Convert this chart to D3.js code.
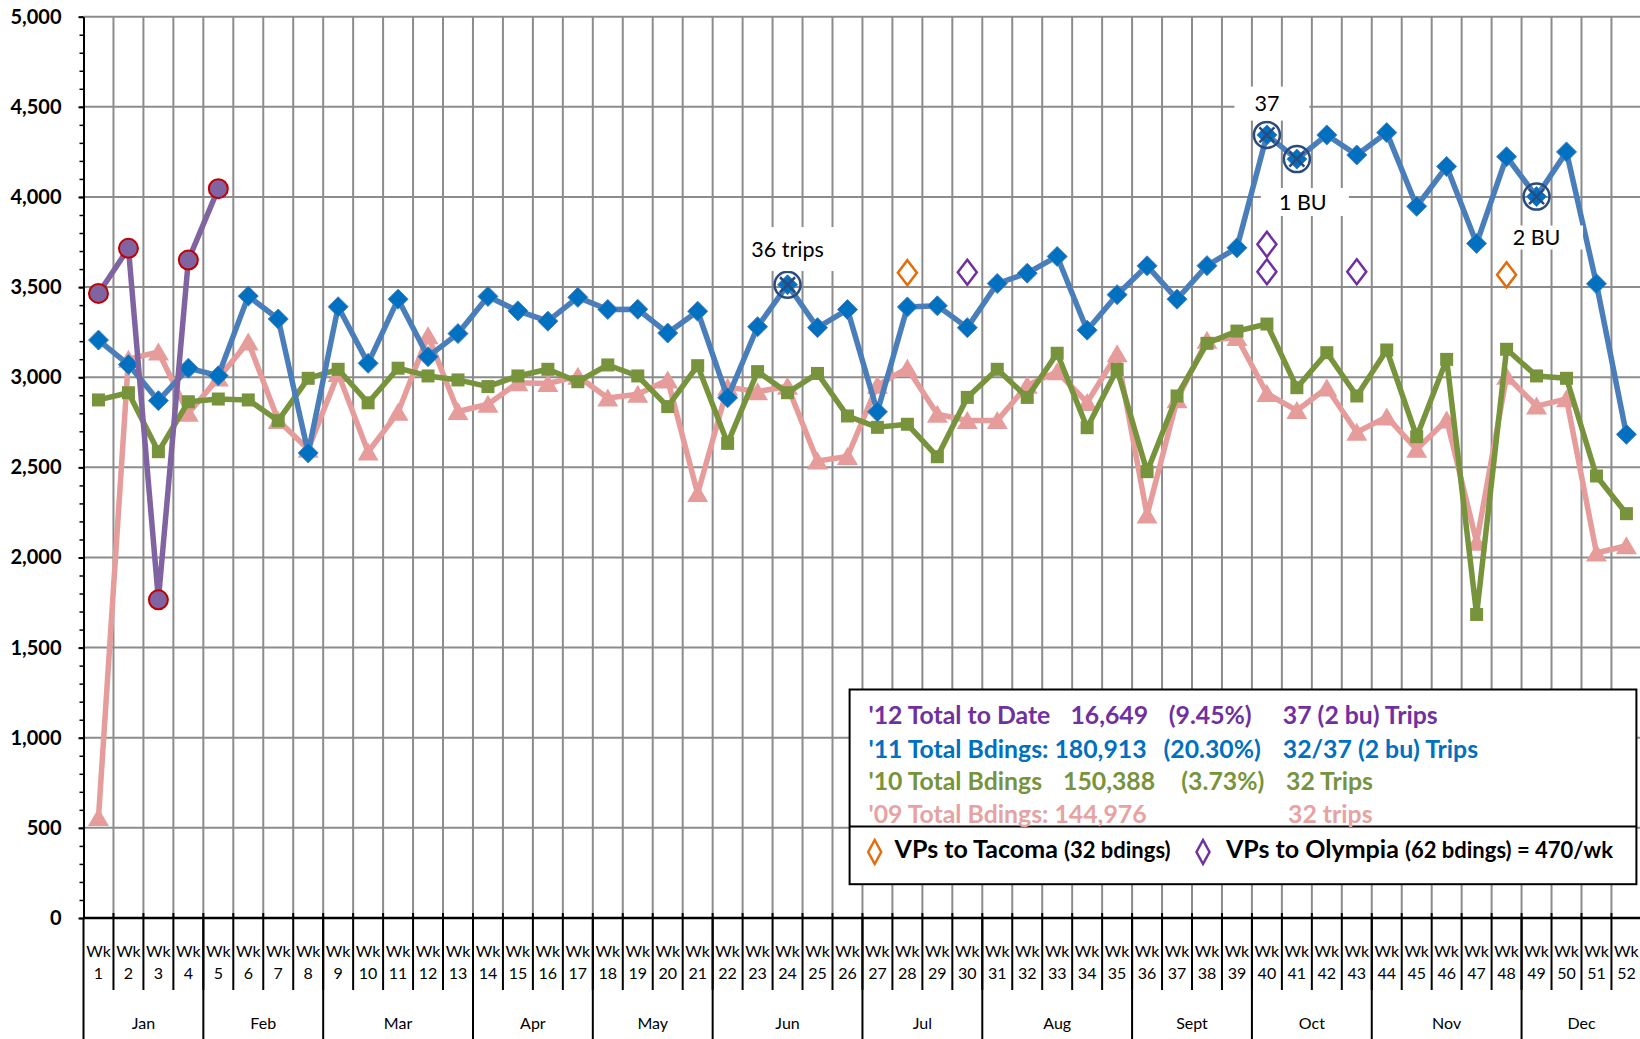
<!DOCTYPE html>
<html><head><meta charset="utf-8">
<script src="https://cdn.jsdelivr.net/npm/d3@7"></script>
<style>
html,body{margin:0;padding:0;background:#fff;}
svg{display:block;}
</style></head>
<body>
<svg id="chart" width="1640" height="1039"></svg>
<script>
// ---------------- DATA ----------------
const weeks = [1,2,3,4,5,6,7,8,9,10,11,12,13,14,15,16,17,18,19,20,21,22,23,24,25,26,
               27,28,29,30,31,32,33,34,35,36,37,38,39,40,41,42,43,44,45,46,47,48,49,50,51,52];
const weekPrefix = "Wk";
const monthNames = ["Jan","Feb","Mar","Apr","May","Jun","Jul","Aug","Sept","Oct","Nov","Dec"];
const monthFirstWeek = [1,5,9,14,18,22,27,31,36,40,44,49];
const monthLastWeek  = [4,8,13,17,21,26,30,35,39,43,48,52];
const yTicks = [0,500,1000,1500,2000,2500,3000,3500,4000,4500,5000];

// '09 total boardings (pink, triangles)
const bdings09 = [557,3100,3140,2800,2995,3195,2760,2600,3020,2585,2805,3230,2810,2850,2970,2965,3005,2885,2905,2985,
                  2355,2945,2920,2950,2535,2560,2955,3050,2795,2760,2760,2955,3030,2860,3130,2235,2875,3205,3220,2910,
                  2815,2940,2695,2780,2600,2763,2085,3005,2840,2880,2025,2065];
// '10 total boardings (green, squares)
const bdings10 = [2874,2914,2587,2864,2879,2874,2759,2994,3044,2858,3050,3007,2985,2948,3007,3044,2975,3068,3007,2837,
                  3064,2633,3031,2914,3021,2785,2722,2739,2559,2888,3044,2888,3133,2720,3044,2476,2896,3188,3256,3295,
                  2942,3136,2896,3151,2670,3099,1684,3155,3007,2994,2452,2243];
// '11 total boardings (blue, diamonds)
const bdings11 = [3206,3070,2870,3050,3008,3450,3323,2580,3391,3077,3433,3114,3242,3448,3368,3311,3443,3376,3377,3245,
                  3366,2886,3280,3513,3275,3375,2808,3390,3396,3275,3520,3577,3670,3261,3458,3618,3433,3619,3718,4344,
                  4210,4344,4233,4357,3948,4169,3742,4223,4002,4250,3518,2683];
// '12 to date (purple, circles)
const bdings12 = [3465,3715,1765,3650,4046];

// circled points on the '11 series (extra trips / bus-ups)
const circledWeeks = [24,40,41,49];
// VP markers
const tacomaWeeks = [28,48];
const tacomaValues = [3580,3568];
const olympiaWeeks = [30,40,40,43];
const olympiaValues = [3582,3585,3737,3585];

// annotations: text, week, value
const annotTexts  = ["36 trips","37","1 BU","2 BU"];
const annotWeeks  = [24,40,41.2,49];
const annotValues = [3711,4518,3972,3775];

// legend text
const legendRows = [
  ["'12 Total to Date","16,649","(9.45%)","37 (2 bu) Trips"],
  ["'11 Total Bdings: 180,913","","(20.30%)","32/37 (2 bu) Trips"],
  ["'10 Total Bdings","150,388","(3.73%)","32 Trips"],
  ["'09 Total Bdings: 144,976","","","32 trips"]
];

// ---------------- LAYOUT ----------------
const W = 1640, H = 1039;
const X0 = 83.5, X1 = 1641.4, Y0 = 918, Y1 = 16.7;
const FONT = "Lato, 'Open Sans', sans-serif";
const C = {
  grid:"#8c8c8c", blueLine:"#4A7EBB", blueMark:"#0070C0", green:"#77933C",
  pink:"#E69C9B", purple:"#8064A2", red:"#C00000", navy:"#2A4B7C",
  orange:"#E46C0A", violet:"#7030A0", pinkText:"#E6A3A2"
};
const LW_SERIES = 5.5;

const svg = d3.select("#chart");
const x = d3.scaleLinear().domain([0.5, 52.5]).range([X0, X1]);
const y = d3.scaleLinear().domain([0, 5000]).range([Y0, Y1]);

// ---------- gridlines ----------
const grid = svg.append("g");
grid.selectAll("line.h").data(yTicks.filter(v => v > 0)).join("line")
  .attr("x1", X0).attr("x2", W).attr("y1", d => y(d)).attr("y2", d => y(d))
  .attr("stroke", C.grid).attr("stroke-width", 2);
grid.selectAll("line.v").data(weeks).join("line")
  .attr("x1", d => x(d + 0.5)).attr("x2", d => x(d + 0.5))
  .attr("y1", Y1).attr("y2", Y0)
  .attr("stroke", C.grid).attr("stroke-width", 2);

// ---------- annotation boxes (white) ----------
const annotBoxW = [90, 75, 88, 89], annotBoxH = [44, 34, 28, 24];
const annotG = svg.append("g");
annotG.selectAll("rect").data(annotTexts).join("rect")
  .attr("x", (d,i) => x(annotWeeks[i]) - annotBoxW[i]/2 + (i===1?5:2))
  .attr("y", (d,i) => y(annotValues[i]) - annotBoxH[i]/2)
  .attr("width", (d,i) => annotBoxW[i]).attr("height", (d,i) => annotBoxH[i])
  .attr("fill", "#fff");

// ---------- Y axis ----------
const gyMinor = svg.append("g").attr("transform", `translate(${X0},0)`)
  .call(d3.axisLeft(y).tickValues(d3.range(0, 5001, 100)).tickSize(4).tickSizeOuter(0).tickFormat(""));
gyMinor.select(".domain").remove();
gyMinor.selectAll("line").attr("stroke", "#000").attr("stroke-width", 1.5);
const gy = svg.append("g").attr("transform", `translate(${X0},0)`)
  .call(d3.axisLeft(y).tickValues(yTicks).tickFormat(d3.format(",")).tickSize(5).tickSizeOuter(0).tickPadding(17));
gy.select(".domain").attr("stroke", "#000").attr("stroke-width", 2);
gy.selectAll(".tick line").attr("stroke", "#000").attr("stroke-width", 2);
gy.selectAll("text").attr("font-family", FONT).attr("font-weight", "bold")
  .attr("font-size", 20).attr("fill", "#000");

// ---------- X axis (two-level categories) ----------
const gx = svg.append("g");
gx.append("line").attr("x1", X0).attr("x2", W).attr("y1", Y0).attr("y2", Y0)
  .attr("stroke", "#000").attr("stroke-width", 2.5);
gx.selectAll("line.wk").data(weeks).join("line")
  .attr("x1", d => x(d + 0.5)).attr("x2", d => x(d + 0.5))
  .attr("y1", Y0 - 5).attr("y2", 990)
  .attr("stroke", "#000").attr("stroke-width", 2);
gx.selectAll("line.mo").data([0].concat(monthLastWeek)).join("line")
  .attr("x1", d => x(d + 0.5)).attr("x2", d => x(d + 0.5))
  .attr("y1", Y0).attr("y2", H)
  .attr("stroke", "#000").attr("stroke-width", 2);
gx.selectAll("text.wk").data(weeks).join("text")
  .attr("x", d => x(d)).attr("y", 951).attr("dy", "0.35em")
  .attr("text-anchor", "middle").attr("font-family", FONT).attr("font-size", 16)
  .text(weekPrefix);
gx.selectAll("text.num").data(weeks).join("text")
  .attr("x", d => x(d)).attr("y", 973).attr("dy", "0.35em")
  .attr("text-anchor", "middle").attr("font-family", FONT).attr("font-size", 16)
  .text(d => d);
gx.selectAll("text.mo").data(monthNames).join("text")
  .attr("x", (d,i) => (x(monthFirstWeek[i] - 0.5) + x(monthLastWeek[i] + 0.5)) / 2)
  .attr("y", 1023).attr("dy", "0.35em")
  .attr("text-anchor", "middle").attr("font-family", FONT).attr("font-size", 16)
  .text(d => d);

// ---------- series ----------
const line = d3.line().x((d,i) => x(i + 1)).y(d => y(d));
const series = svg.append("g");

// '09 pink
series.append("path").datum(bdings09).attr("d", line)
  .attr("fill", "none").attr("stroke", C.pink).attr("stroke-width", LW_SERIES).attr("stroke-linejoin", "round");
series.selectAll("path.tri").data(bdings09).join("path")
  .attr("d", (d,i) => { const cx = x(i+1), cy = y(d); return `M${cx},${cy-9.5}L${cx+10.5},${cy+8.5}L${cx-10.5},${cy+8.5}Z`; })
  .attr("fill", C.pink);

// '10 green
series.append("path").datum(bdings10).attr("d", line)
  .attr("fill", "none").attr("stroke", C.green).attr("stroke-width", LW_SERIES).attr("stroke-linejoin", "round");
series.selectAll("rect.sq").data(bdings10).join("rect")
  .attr("x", (d,i) => x(i+1) - 6.5).attr("y", d => y(d) - 6.5)
  .attr("width", 13).attr("height", 13).attr("fill", C.green);

// '11 blue
series.append("path").datum(bdings11).attr("d", line)
  .attr("fill", "none").attr("stroke", C.blueLine).attr("stroke-width", LW_SERIES).attr("stroke-linejoin", "round");
series.selectAll("path.dia").data(bdings11).join("path")
  .attr("d", (d,i) => { const cx = x(i+1), cy = y(d); return `M${cx},${cy-10}L${cx+10},${cy}L${cx},${cy+10}L${cx-10},${cy}Z`; })
  .attr("fill", C.blueMark).attr("stroke", C.blueLine).attr("stroke-width", 1);

// '12 purple
series.append("path").datum(bdings12).attr("d", line)
  .attr("fill", "none").attr("stroke", C.purple).attr("stroke-width", LW_SERIES).attr("stroke-linejoin", "round");
series.selectAll("circle.c12").data(bdings12).join("circle")
  .attr("cx", (d,i) => x(i+1)).attr("cy", d => y(d)).attr("r", 9.5)
  .attr("fill", C.purple).attr("stroke", C.red).attr("stroke-width", 2);

// circled X markers
const circ = svg.append("g").selectAll("g").data(circledWeeks).join("g")
  .attr("transform", w => `translate(${x(w)},${y(bdings11[w-1])})`);
circ.append("circle").attr("r", 13).attr("fill", "none").attr("stroke", C.navy).attr("stroke-width", 2.5);
circ.append("path").attr("d", "M-7.5,-7.5L7.5,7.5M7.5,-7.5L-7.5,7.5").attr("stroke", C.navy).attr("stroke-width", 2.5);

// VP open diamonds
function openDiamond(sel, color, hw, hh) {
  return sel.attr("d", `M0,${-hh}L${hw},0L0,${hh}L${-hw},0Z`)
    .attr("fill", "none").attr("stroke", color).attr("stroke-width", 2.5);
}
const vp = svg.append("g");
openDiamond(vp.selectAll("path.tac").data(tacomaWeeks).join("path")
  .attr("transform", (w,i) => `translate(${x(w)},${y(tacomaValues[i])})`), C.orange, 9.5, 12.5);
openDiamond(vp.selectAll("path.oly").data(olympiaWeeks).join("path")
  .attr("transform", (w,i) => `translate(${x(w)},${y(olympiaValues[i])})`), C.violet, 9.5, 12.5);

// annotation texts
annotG.selectAll("text").data(annotTexts).join("text")
  .attr("x", (d,i) => x(annotWeeks[i])).attr("y", (d,i) => y(annotValues[i])).attr("dy", "0.35em")
  .attr("text-anchor", "middle").attr("font-family", FONT).attr("font-size", 21.5).attr("fill", "#000")
  .text(d => d);
annotG.raise();

// ---------- legend box ----------
const lg = svg.append("g");
const LX = 849.6, LY = 689.5, LW = 786.8, LH = 194.7;
lg.append("rect").attr("x", LX).attr("y", LY).attr("width", LW).attr("height", LH)
  .attr("fill", "#fff").attr("stroke", "#000").attr("stroke-width", 2);
lg.append("line").attr("x1", LX).attr("x2", LX + LW).attr("y1", 826.6).attr("y2", 826.6)
  .attr("stroke", "#000").attr("stroke-width", 2);
const rowY = [715.7, 749, 781.6, 814];
const rowColor = [C.violet, C.blueMark, C.green, C.pinkText];
const colX = [[868.4,1070.4,1168.7,1282.8],[868.4,0,1163.5,1282.8],[868.4,1063,1181.3,1286],[868.4,0,0,1288]];
legendRows.forEach((row, r) => {
  row.forEach((t, c) => {
    if (!t) return;
    lg.append("text").attr("x", colX[r][c]).attr("y", rowY[r]).attr("dy", "0.35em")
      .attr("font-family", FONT).attr("font-weight", "bold").attr("font-size", 24.8)
      .attr("fill", rowColor[r]).text(t);
  });
});
// VP row
openDiamond(lg.append("path").attr("transform", "translate(874.7,852)"), C.orange, 6.5, 12);
openDiamond(lg.append("path").attr("transform", "translate(1203,852)"), C.violet, 6.5, 12);
const t1 = lg.append("text").attr("x", 894.6).attr("y", 852.7).attr("dy", "0.35em")
  .attr("font-family", FONT).attr("font-weight", "bold").attr("fill", "#000");
t1.append("tspan").attr("font-size", 25).text("VPs to Tacoma ");
t1.append("tspan").attr("font-size", 22).text("(32 bdings)");
const t2 = lg.append("text").attr("x", 1226).attr("y", 852.7).attr("dy", "0.35em")
  .attr("font-family", FONT).attr("font-weight", "bold").attr("fill", "#000");
t2.append("tspan").attr("font-size", 25).text("VPs to Olympia ");
t2.append("tspan").attr("font-size", 22).text("(62 bdings) = 470/wk");
</script>
</body></html>
